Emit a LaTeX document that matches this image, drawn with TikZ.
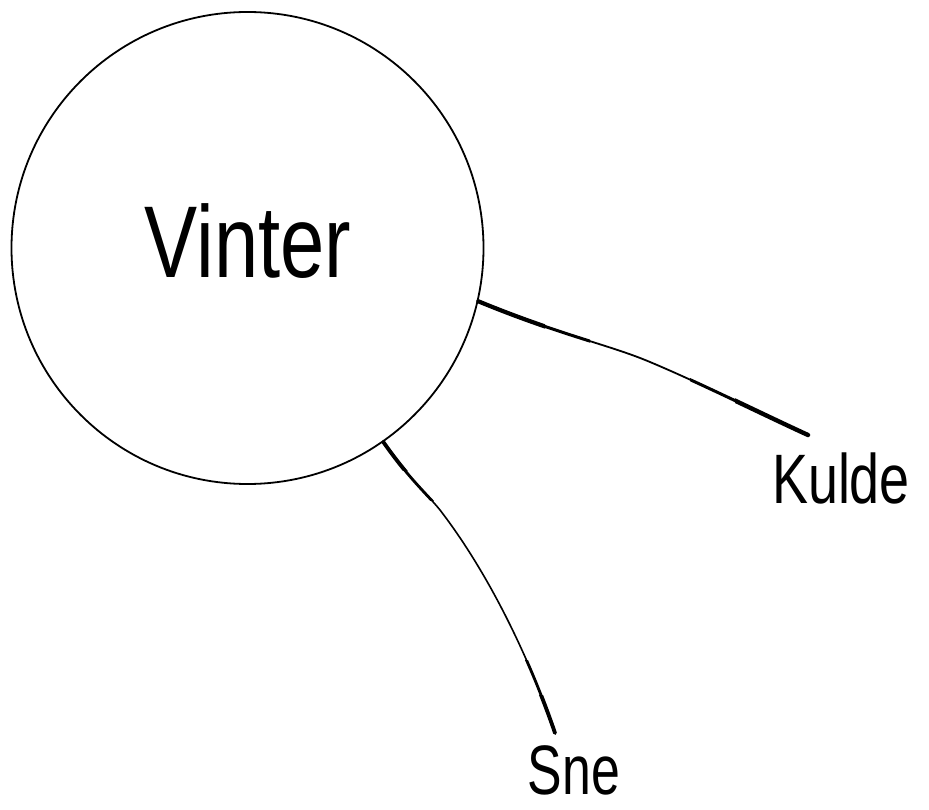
\documentclass[tikz,border=0pt]{standalone}
\usepackage{fontspec}
\setmainfont{Liberation Sans}
\tikzset{
  bubble/.style={circle, draw, line width=1.8pt, minimum size=472pt, inner sep=0pt},
  lbl/.style={inner sep=0pt, anchor=base},
  link/.style={line width=#1, line cap=round}
}
\begin{document}
\begin{tikzpicture}[x=1pt,y=1pt]
\useasboundingbox (0,0) rectangle (929,-810);
\node[bubble] (vinter) at (247.5,-248) {};
\node[lbl] (vt) at (248,-278) {\fontsize{102}{102}\selectfont\scalebox{0.78}[1]{Vinter}};
\node[lbl] (kulde) at (841,-503) {\fontsize{70}{70}\selectfont\scalebox{0.77}[1]{Kulde}};
\node[lbl] (sne) at (574,-794) {\fontsize{70}{70}\selectfont\scalebox{0.74}[1]{Sne}};
\coordinate (k0) at (vinter.-13.3);
\coordinate (k1) at (808,-435);
\coordinate (s0) at (vinter.-55.2);
\coordinate (s1) at (555,-733);
\def\kpath{(k0) .. controls (560,-335) and (610,-345) .. (650,-362) .. controls (700,-383) and (760,-413) .. (k1)}
\def\spath{(s0) .. controls (410,-480) and (428,-495) .. (440,-510) .. controls (490,-575) and (530,-660) .. (s1)}
% link to Kulde
\draw[link=1.8pt] \kpath;
\begin{scope}\clip (470,-280) rectangle (590,-360); \draw[link=3pt] \kpath; \end{scope}
\begin{scope}\clip (470,-280) rectangle (545,-360); \draw[link=4.2pt] \kpath; \end{scope}
\begin{scope}\clip (690,-360) rectangle (820,-450); \draw[link=3pt] \kpath; \end{scope}
\begin{scope}\clip (735,-360) rectangle (820,-450); \draw[link=4.4pt] \kpath; \end{scope}
% link to Sne
\draw[link=1.6pt] \spath;
\begin{scope}\clip (370,-430) rectangle (470,-500); \draw[link=2.8pt] \spath; \end{scope}
\begin{scope}\clip (370,-430) rectangle (470,-470); \draw[link=3.8pt] \spath; \end{scope}
\begin{scope}\clip (480,-660) rectangle (580,-745); \draw[link=2.8pt] \spath; \end{scope}
\begin{scope}\clip (480,-695) rectangle (580,-745); \draw[link=3.8pt] \spath; \end{scope}
\end{tikzpicture}
\end{document}
